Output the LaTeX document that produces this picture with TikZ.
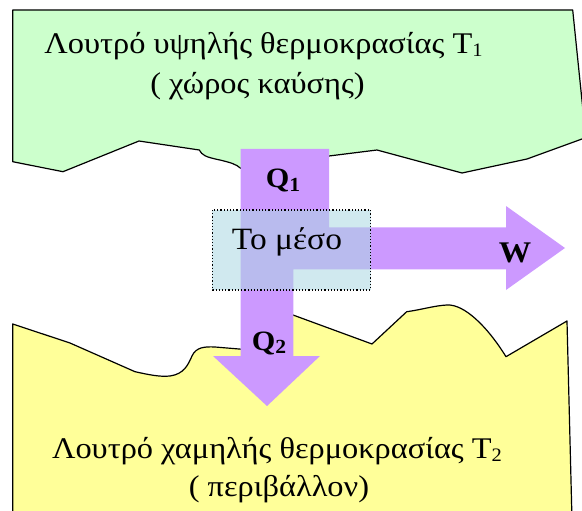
\documentclass[tikz,border=0pt]{standalone}
\usepackage{fontspec}
\setmainfont[FakeStretch=1.08]{Liberation Serif}
\definecolor{hotbath}{HTML}{CCFFCC}
\definecolor{coldbath}{HTML}{FFFF99}
\definecolor{flow}{HTML}{CC99FF}
\definecolor{medium}{RGB}{170,215,225}
\newcommand{\lowsub}[1]{\raisebox{-0.1em}{\fontsize{19}{19}\selectfont #1}}
\newcommand{\boldsub}[1]{\raisebox{-0.12em}{\fontsize{20}{20}\selectfont\bfseries #1}}

\begin{document}
\begin{tikzpicture}[x=1pt,y=-1pt,
  bath/.style={draw=black, line width=1.2pt, line join=round},
  bathtext/.style={anchor=base, inner sep=0pt, font=\fontsize{30}{36}\selectfont},
  flowlabel/.style={inner sep=0pt, font=\bfseries\fontsize{28}{28}\selectfont},
  mediumbox/.style={draw=black, dotted, line width=1.2pt, fill=medium, fill opacity=0.55},
]
\useasboundingbox (0,0) rectangle (582,511);
\clip (0,0) rectangle (582,511);

% hot reservoir with a ragged lower edge
\draw[bath, fill=hotbath]
  (12.7,10) -- (572.7,10) -- (585.8,137.6) -- (527,159) -- (462,173)
  -- (377,150) -- (329,156) -- (260,165) -- (240.7,168.3)
  .. controls (236,164) and (230,162.5) .. (220,160)
  .. controls (205,157) and (202,155) .. (199.3,150)
  -- (139,141) -- (63,171.7) -- (12.7,161.7) -- cycle;

% cold reservoir with a ragged upper edge
\draw[bath, fill=coldbath]
  (12.7,324) -- (70,343) -- (135,371.7)
  .. controls (150,375) and (160,377) .. (170,376)
  .. controls (184,374) and (188,365) .. (192,356)
  .. controls (196,347) and (205,346.5) .. (215,347)
  -- (245,349.5) -- (293,315) -- (372,344) -- (406.7,311.7)
  .. controls (420,310) and (435,305.5) .. (447,305)
  .. controls (464,304) and (487,326) .. (506,356.7)
  -- (567,321) -- (572,520) -- (12.7,520) -- cycle;

% heat and work flow
\coordinate (inTopL) at (240.7,149);
\coordinate (inTopR) at (329,149);
\fill[flow] (inTopL) -- (inTopR) -- (329,227.3) -- (506,227.3) -- (506,206)
  -- (565,248) -- (506,290) -- (506,269.3) -- (293.3,269.3) -- (293.3,356)
  -- (320,356) -- (267,406) -- (213,356) -- (240.7,356) -- cycle;

\node[flowlabel] (q1) at (283,181) {Q\boldsub{1}};
\node[flowlabel] (q2) at (269,343) {Q\boldsub{2}};
\node[flowlabel, font=\bfseries\fontsize{30}{30}\selectfont] (w) at (515,252.5) {W};

% working medium
\draw[mediumbox] (212.3,210) rectangle (370.5,290);
\node[anchor=base, inner sep=0pt, font=\fontsize{31}{31}\selectfont] (medium) at (287,249.3) {Το μέσο};

% reservoir labels
\node[bathtext] (hot1) at (263.5,53.3) {Λουτρό υψηλής θερμοκρασίας T\lowsub{1}};
\node[bathtext] (hot2) at (257.5,93.3) {( χώρος καύσης)};
\node[bathtext] (cold1) at (277,458.3) {Λουτρό χαμηλής θερμοκρασίας T\lowsub{2}};
\node[bathtext] (cold2) at (279,496.7) {( περιβάλλον)};
\end{tikzpicture}
\end{document}
